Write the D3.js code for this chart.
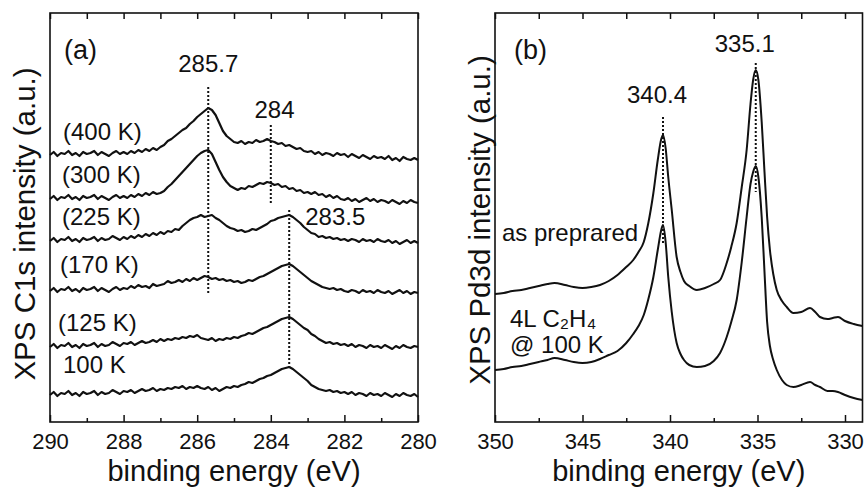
<!DOCTYPE html>
<html>
<head>
<meta charset="utf-8">
<script src="https://cdn.jsdelivr.net/npm/d3@7"></script>
<style>
  html, body { margin: 0; padding: 0; background: #fff; }
  svg { display: block; }
  text { font-family: "Liberation Sans", Arial, Helvetica, sans-serif; fill: #111; }
</style>
</head>
<body>
<svg id="chart" width="866" height="492"></svg>
<script>
// ---------------- DATA ----------------
// Panel (a): C1s spectra, binding energy grid 290 -> 280 eV in 0.1 eV channels
const energyA = d3.range(0, 101).map(i => +(290 - i * 0.1).toFixed(1));
const temperatureLabels = ["(400 K)", "(300 K)", "(225 K)", "(170 K)", "(125 K)", "100 K"];
// stacked intensities (a.u.)
const c1s400 = [267,270,266,269,268,271,267,269,266,270,268,269,271,267,270,268,266,269,271,268,270,
  268,271,269,272,270,273,271,274,272,275,
  277,281,283,286,289,292,294,298,301,305,
  308,311,314,312,307,299,291,286,283,280,
  279,281,278,280,279,282,280,281,283,281,
  280,278,279,276,277,275,273,274,271,270,
  271,268,270,267,269,268,266,269,267,268,
  265,268,266,264,267,265,263,266,264,265,
  263,266,262,264,261,265,263,262,264,262];
const c1s300 = [223,226,222,225,224,227,223,225,222,226,224,225,227,223,226,224,222,225,227,224,226,
  224,227,225,228,226,229,227,230,228,229,
  231,235,238,242,246,250,254,258,262,266,
  269,271,272,268,260,252,245,240,236,234,
  232,234,233,236,235,237,239,238,240,239,
  237,238,235,236,233,234,231,232,229,230,
  228,230,227,228,225,227,224,226,223,222,
  224,221,223,220,222,224,221,223,220,222,
  221,219,222,220,218,221,219,222,220,219];
const c1s225 = [181,184,180,183,182,185,181,183,180,184,182,183,185,181,184,182,183,186,184,182,185,
  183,186,184,187,185,188,186,189,187,190,
  188,191,190,193,192,196,199,202,204,205,
  207,205,206,207,204,202,199,196,194,193,
  191,192,190,191,193,192,194,196,198,201,
  202,204,205,206,207,205,202,199,195,192,
  189,188,185,186,184,185,183,184,182,183,
  181,183,182,180,183,181,182,180,183,181,
  180,182,179,181,178,180,182,179,181,179];
const c1s170 = [131,134,130,133,132,135,131,133,130,134,132,133,135,131,134,132,130,133,135,132,134,
  133,136,134,137,135,136,134,138,136,137,
  138,141,139,140,142,140,143,141,144,142,
  144,146,145,143,144,142,143,141,142,140,
  141,139,140,142,141,143,145,146,148,150,
  152,154,156,157,158,156,153,150,147,144,
  141,139,137,135,134,133,134,132,133,131,
  130,132,131,129,132,130,131,129,132,130,
  129,131,128,130,132,129,131,128,130,129];
const c1s125 = [75,78,74,77,76,79,75,77,74,78,76,77,79,75,78,76,77,80,78,76,79,
  78,80,77,79,81,79,80,82,80,83,
  81,83,82,84,83,85,84,86,85,87,
  84,83,82,84,81,83,82,84,83,85,
  84,86,87,89,88,90,92,94,95,97,
  99,101,103,104,105,103,100,97,94,92,
  88,86,83,81,79,80,78,79,77,78,
  76,78,75,77,76,74,77,75,76,74,
  77,75,73,76,74,77,75,74,76,75];
const c1s100 = [27,30,26,29,28,31,27,29,26,30,28,29,31,27,30,28,29,32,30,28,31,
  30,32,29,31,33,31,32,34,31,33,
  32,34,33,35,34,36,33,35,34,36,
  34,33,35,32,34,31,33,35,34,36,
  35,37,38,40,39,41,43,44,46,47,
  49,51,53,54,55,53,50,47,44,41,
  37,35,33,32,31,32,30,31,29,30,
  28,30,27,29,28,26,29,27,28,26,
  29,27,25,28,26,29,27,26,28,25];
const seriesA = [c1s400, c1s300, c1s225, c1s170, c1s125, c1s100];
// peak markers (a): energy, from, to (a.u.)
const peaksA = [285.7, 284, 283.5];
const peakLabelsA = ["285.7", "284", "283.5"];
const peakSpanA = [[127, 335], [219, 297], [54, 212]];

// Panel (b): Pd3d spectra
const energyB = [350,349.5,349,348.5,348,347.5,347,346.6,346,345.5,345,344.5,344,343.5,343,342.5,342.1,341.8,341.5,341.25,340.95,340.7,340.5,340.4,340.25,340.1,339.9,339.62,339.4,339.2,338.9,338.47,338,337.5,337.14,336.76,336.5,336.19,335.9,335.62,335.4,335.25,335.1,334.95,334.76,334.6,334.45,334.29,334.1,333.9,333.6,333.33,332.95,332.5,332,331.7,331.43,331,330.7,330.4,330,329.5,329];
const pdPrepared = [128,129,131,132,134,136,138,139,137,135,134,135,137,141,147,155,162,170,180,198,229,262,283,287,274,245,212,165,150,141,136,132,134,138,142,159,175,199,235,272,318,342,352,342,300,250,205,172,148,132,121,115,109,110,114,110,105,103,104,105,101,98,96];
const pdEthylene = [52,53,55,56,58,60,62,64,62,60,59,60,63,67,71,79,88,96,107,122,145,172,192,197,180,145,110,79,68,62,57,55,56,61,69,85,100,122,160,205,238,250,256,245,205,150,100,76,62,52,42,37,35,37,40,37,35,31,31,30,27,24,22];
const peaksB = [340.4, 335.1];
const peakLabelsB = ["340.4", "335.1"];
const peakSpanB = [[179, 305], [230, 359]];
const sampleLabelsB = ["as preprared", "4L C\u2082H\u2084", "@ 100 K"];

// ---------------- DRAW ----------------
const svg = d3.select("#chart");
const plotTop = 13, plotBottom = 422;
const y = d3.scaleLinear().domain([0, 409]).range([plotBottom, plotTop]);

const xA = d3.scaleLinear().domain([290, 280]).range([50, 418]);
const xB = d3.scaleLinear().domain([350, 329]).range([495, 862.5]);

function frame(x, majors, minors, fmt) {
  const [x0, x1] = x.range();
  const g = svg.append("g");
  const ab = g.append("g").attr("transform", `translate(0,${plotBottom})`)
    .call(d3.axisBottom(x).tickValues(majors).tickSize(-7).tickFormat(fmt));
  ab.select(".domain").remove();
  ab.selectAll(".tick line").attr("stroke", "#111").attr("stroke-width", 1.5);
  ab.selectAll(".tick text").attr("y", 27).attr("dy", null)
    .style("font-size", "22px").style("font-family", "'Liberation Sans', Arial, sans-serif").attr("fill", "#111");
  const abm = g.append("g").attr("transform", `translate(0,${plotBottom})`)
    .call(d3.axisBottom(x).tickValues(minors).tickSize(-4).tickFormat(""));
  abm.select(".domain").remove();
  abm.selectAll(".tick line").attr("stroke", "#111").attr("stroke-width", 1.5);
  const at = g.append("g").attr("transform", `translate(0,${plotTop})`)
    .call(d3.axisTop(x).tickValues(majors.concat(minors)).tickSize(-6).tickFormat(""));
  at.select(".domain").remove();
  at.selectAll(".tick line").attr("stroke", "#111").attr("stroke-width", 1.5);
  g.append("rect").attr("x", x0).attr("y", plotTop).attr("width", x1 - x0).attr("height", plotBottom - plotTop)
    .attr("fill", "none").attr("stroke", "#111").attr("stroke-width", 1.6);
  g.append("text").attr("x", (x0 + x1) / 2).attr("y", 481).attr("text-anchor", "middle")
    .style("font-size", "29px").text("binding energy (eV)");
}

frame(xA, [290, 288, 286, 284, 282, 280], [289, 287, 285, 283, 281], d3.format("d"));
frame(xB, [350, 345, 340, 335, 330], [347.5, 342.5, 337.5, 332.5], d3.format("d"));

// y titles
svg.append("text").attr("transform", "translate(35,224) rotate(-90)").attr("text-anchor", "middle")
  .style("font-size", "29.5px").text("XPS C1s intensity (a.u.)");
svg.append("text").attr("transform", "translate(490,220) rotate(-90)").attr("text-anchor", "middle")
  .style("font-size", "29.5px").text("XPS Pd3d intensity (a.u.)");

// Panel (a) curves
const lineA = d3.line().x((d, i) => xA(energyA[i])).y(d => y(d));
svg.append("g").selectAll("path").data(seriesA).join("path")
  .attr("d", lineA).attr("fill", "none").attr("stroke", "#111")
  .attr("stroke-width", 2.2).attr("stroke-linejoin", "round");

// dotted peak markers (a)
svg.append("g").selectAll("line").data(peaksA).join("line")
  .attr("x1", d => xA(d)).attr("x2", d => xA(d))
  .attr("y1", (d, i) => y(peakSpanA[i][1])).attr("y2", (d, i) => y(peakSpanA[i][0]))
  .attr("stroke", "#111").attr("stroke-width", 2).attr("stroke-dasharray", "2,2");

// peak labels (a)
svg.append("text").attr("x", xA(285.7)).attr("y", 72).attr("text-anchor", "middle")
  .style("font-size", "24px").text(peakLabelsA[0]);
svg.append("text").attr("x", xA(283.9)).attr("y", 118).attr("text-anchor", "middle")
  .style("font-size", "24px").text(peakLabelsA[1]);
svg.append("text").attr("x", xA(283.5) + 16).attr("y", 225).attr("text-anchor", "start")
  .style("font-size", "24px").text(peakLabelsA[2]);

// temperature labels (a)
const tempBaselines = [140, 183, 225, 273, 331, 373];
const tempX = [63, 62, 62, 60, 58, 63];
svg.append("g").selectAll("text").data(temperatureLabels).join("text")
  .attr("x", (d, i) => tempX[i]).attr("y", (d, i) => tempBaselines[i])
  .style("font-size", "24px").text(d => d);

svg.append("text").attr("x", 64).attr("y", 59).style("font-size", "27px").text("(a)");

// Panel (b) curves
const lineB = d3.line().x((d, i) => xB(energyB[i])).y(d => y(d)).curve(d3.curveMonotoneX);
svg.append("g").selectAll("path").data([pdPrepared, pdEthylene]).join("path")
  .attr("d", lineB).attr("fill", "none").attr("stroke", "#111")
  .attr("stroke-width", 2).attr("stroke-linejoin", "round");

svg.append("g").selectAll("line").data(peaksB).join("line")
  .attr("x1", d => xB(d)).attr("x2", d => xB(d))
  .attr("y1", (d, i) => y(peakSpanB[i][1])).attr("y2", (d, i) => y(peakSpanB[i][0]))
  .attr("stroke", "#111").attr("stroke-width", 2).attr("stroke-dasharray", "2,2");

svg.append("text").attr("x", xB(340.4) - 6).attr("y", 103).attr("text-anchor", "middle")
  .style("font-size", "24px").text(peakLabelsB[0]);
svg.append("text").attr("x", xB(335.1) - 11).attr("y", 52).attr("text-anchor", "middle")
  .style("font-size", "24px").text(peakLabelsB[1]);

svg.append("text").attr("x", 514).attr("y", 59).style("font-size", "27px").text("(b)");

const sampleX = [502, 510, 510];
const sampleY = [241, 327, 353];
svg.append("g").selectAll("text").data(sampleLabelsB).join("text")
  .attr("x", (d, i) => sampleX[i]).attr("y", (d, i) => sampleY[i])
  .style("font-size", "24px").text(d => d);
</script>
</body>
</html>
